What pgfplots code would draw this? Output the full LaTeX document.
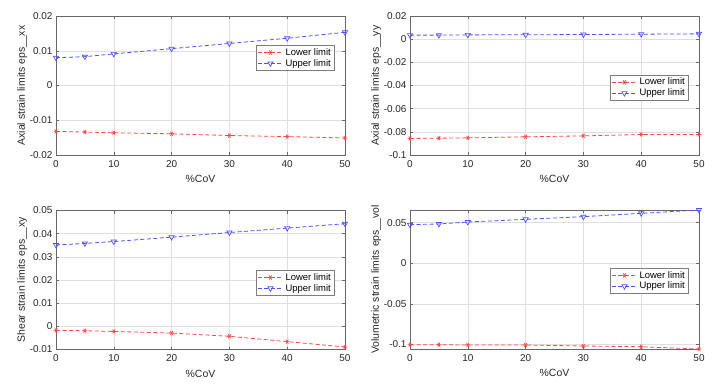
\documentclass[border=0pt]{standalone}
\usepackage{pgfplots}
\pgfplotsset{compat=1.18}
\usepackage{fontspec}
\setmainfont{Liberation Sans}
\definecolor{axgray}{RGB}{38,38,38}
\definecolor{gridgray}{RGB}{223,223,223}
\definecolor{lred}{RGB}{255,70,70}
\definecolor{lblue}{RGB}{80,80,255}
\pgfplotstableread{
x lo up
0 -0.0132 0.0080
5 -0.0134 0.0083
10 -0.0136 0.0091
20 -0.0139 0.0106
30 -0.0144 0.0121
40 -0.0147 0.0136
50 -0.0151 0.0153
}\tabxx
\pgfplotstableread{
x lo up
0 -0.0857 0.0035
5 -0.0855 0.0035
10 -0.0852 0.0037
20 -0.0843 0.0038
30 -0.0835 0.0040
40 -0.0823 0.0043
50 -0.0823 0.0046
}\tabyy
\pgfplotstableread{
x lo up
0 -0.0017 0.0351
5 -0.0019 0.0358
10 -0.0022 0.0366
20 -0.0029 0.0385
30 -0.0043 0.0405
40 -0.0066 0.0424
50 -0.0089 0.0443
}\tabxy
\pgfplotstableread{
x lo up
0 -0.1004 0.0475
5 -0.1004 0.0484
10 -0.1008 0.0508
20 -0.1008 0.0541
30 -0.1020 0.0574
40 -0.1029 0.0615
50 -0.1057 0.0656
}\tabvol
\pgfplotsset{
  myax/.style={
    scale only axis, width=289bp, height=139bp,
    anchor=north west,
    xmin=0, xmax=50, xtick={0,10,20,30,40,50},
    grid=major, major grid style={gridgray, line width=0.5pt},
    axis line style={axgray!70, line width=0.5pt},
    tick style={axgray!70, line width=0.5pt},
    tick align=inside, major tick length=3bp,
    tick label style={font=\fontsize{10}{11}\selectfont, text=axgray},
    xticklabel style={yshift=-2bp},
    label style={font=\fontsize{10.5}{12}\selectfont, text=axgray},
    /pgf/number format/assume math mode=true,
    /pgf/number format/fixed, /pgf/number format/precision=3,
    scaled y ticks=false,
    xlabel={\%CoV},
    xlabel style={yshift=-1bp},
    ylabel style={yshift=-4bp},
    legend cell align=left,
    legend style={font=\fontsize{9.5}{10}\selectfont, draw=axgray!60,
      inner sep=1pt, row sep=-1.5pt, anchor=north east,
      /tikz/every even column/.append style={column sep=2pt}},
    legend image code/.code={\draw[mark repeat=2,mark phase=2] plot coordinates {(0cm,0cm) (0.45cm,0cm) (0.9cm,0cm)};},
  },
  lo/.style={color=lred, draw=lred, line width=0.8pt, dash pattern=on 4bp off 2.5bp,
     mark=asterisk, mark size=2.4pt,
     mark options={solid, draw=lred, rotate=90, line width=0.7pt}},
  up/.style={color=lblue, draw=lblue, line width=0.8pt, dash pattern=on 4bp off 2.5bp,
     mark=triangle, mark size=3pt,
     mark options={solid, draw=lblue, rotate=180, line width=0.7pt}},
}
\begin{document}
\begin{tikzpicture}
\useasboundingbox (0,0) rectangle (721bp,-388bp);
\begin{axis}[myax, at={(56bp,-16bp)}, ymin=-0.02, ymax=0.02,
  ytick={-0.02,-0.01,0,0.01,0.02},
  ylabel={Axial strain limits eps\_\_xx},
  legend style={at={(0.962,0.79)}}]
\addplot[lo] table[x=x,y=lo] {\tabxx};
\addplot[up] table[x=x,y=up] {\tabxx};
\legend{Lower limit, Upper limit}
\end{axis}
\begin{axis}[myax, at={(410bp,-16bp)}, ymin=-0.1, ymax=0.02,
  ytick={-0.1,-0.08,-0.06,-0.04,-0.02,0,0.02},
  ylabel={Axial strain limits eps\_\_yy},
  legend style={at={(0.962,0.576)}}]
\addplot[lo] table[x=x,y=lo] {\tabyy};
\addplot[up] table[x=x,y=up] {\tabyy};
\legend{Lower limit, Upper limit}
\end{axis}
\begin{axis}[myax, at={(56bp,-210.5bp)}, ymin=-0.01, ymax=0.05,
  ytick={-0.01,0,0.01,0.02,0.03,0.04,0.05},
  ylabel={Shear strain limits eps\_\_xy},
  legend style={at={(0.962,0.571)}}]
\addplot[lo] table[x=x,y=lo] {\tabxy};
\addplot[up] table[x=x,y=up] {\tabxy};
\legend{Lower limit, Upper limit}
\end{axis}
\begin{axis}[myax, at={(410bp,-210bp)}, ymin=-0.1057, ymax=0.0656,
  ytick={-0.1,-0.05,0,0.05},
  ylabel={Volumetric strain limits eps\_\_vol},
  legend style={at={(0.962,0.583)}}]
\addplot[lo] table[x=x,y=lo] {\tabvol};
\addplot[up] table[x=x,y=up] {\tabvol};
\legend{Lower limit, Upper limit}
\end{axis}
\end{tikzpicture}
\end{document}
